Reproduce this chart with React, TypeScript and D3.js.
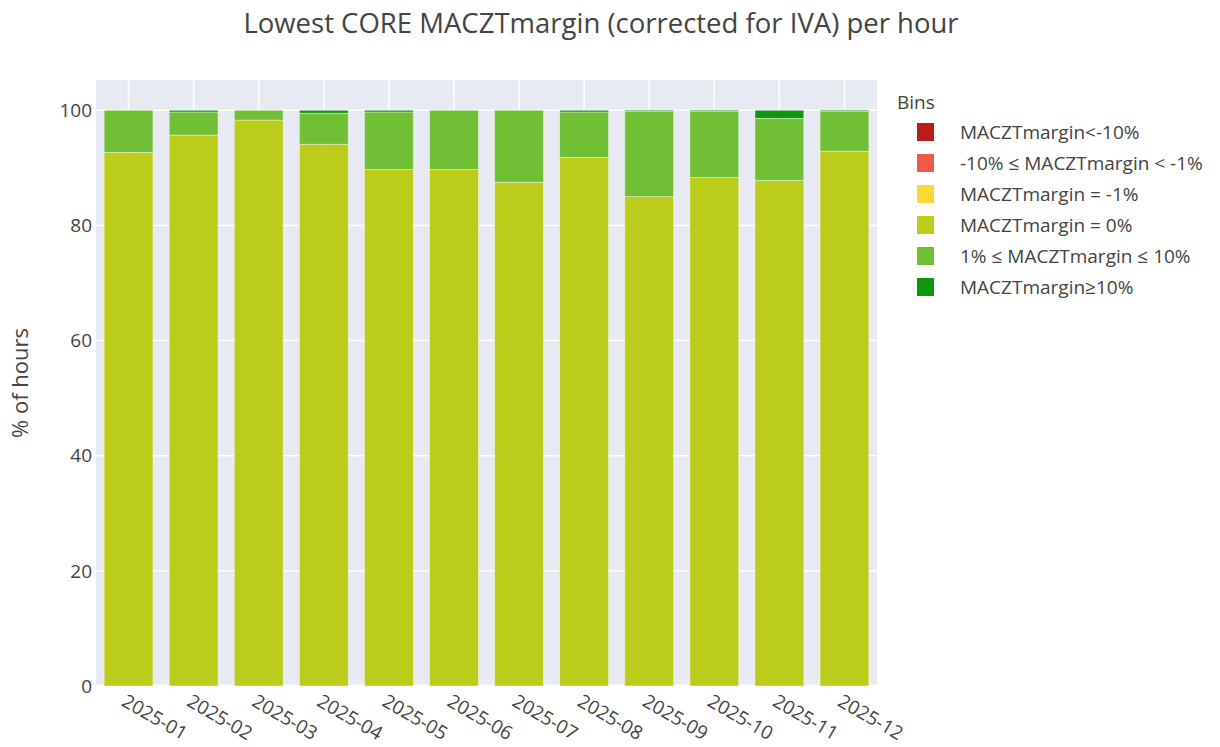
import { useEffect, useRef } from 'react';
import * as d3 from 'd3';

const months = ['2025-01', '2025-02', '2025-03', '2025-04', '2025-05', '2025-06',
  '2025-07', '2025-08', '2025-09', '2025-10', '2025-11', '2025-12'];

const binNames = ['MACZTmargin<-10%', '-10% \u2264 MACZTmargin < -1%', 'MACZTmargin = -1%',
  'MACZTmargin = 0%', '1% \u2264 MACZTmargin \u2264 10%', 'MACZTmargin\u226510%'];
const binColors = ['#b81c1c', '#f0584a', '#fdd835', '#bccc1a', '#70bf34', '#0b980b'];

const belowMinus10 = [0, 0, 0, 0, 0, 0, 0, 0, 0, 0, 0, 0];
const minus10toMinus1 = [0, 0, 0, 0, 0, 0, 0, 0, 0, 0, 0, 0];
const minus1 = [0, 0, 0, 0, 0, 0, 0, 0, 0, 0, 0, 0];
const zero = [92.7, 95.7, 98.3, 94.1, 89.7, 89.7, 87.5, 91.8, 85.0, 88.3, 87.8, 92.9];
const oneTo10 = [7.3, 4.0, 1.7, 5.4, 10.0, 10.3, 12.5, 7.9, 14.8, 11.5, 10.8, 6.9];
const above10 = [0, 0.3, 0, 0.5, 0.3, 0, 0, 0.3, 0.2, 0.2, 1.4, 0.2];

const yTicks = [0, 20, 40, 60, 80, 100];

const App = () => {
  const svgRef = useRef<SVGSVGElement>(null);

  useEffect(() => {
    const width = 1220;
    const height = 747;
    const margin = { top: 80, right: 343, bottom: 61, left: 96 };
    const font = '"Open Sans", sans-serif';
    const series = [belowMinus10, minus10toMinus1, minus1, zero, oneTo10, above10];

    const svg = d3.select(svgRef.current)
      .attr('width', width)
      .attr('height', height)
      .style('font-family', font);
    svg.selectAll('*').remove();

    const x = d3.scaleBand()
      .domain(months)
      .range([margin.left, width - margin.right])
      .paddingInner(0.25)
      .paddingOuter(0.125);

    const y = d3.scaleLinear()
      .domain([0, 105.26])
      .range([height - margin.bottom, margin.top]);

    svg.append('rect')
      .attr('x', margin.left)
      .attr('y', margin.top)
      .attr('width', width - margin.left - margin.right)
      .attr('height', height - margin.top - margin.bottom)
      .attr('fill', '#e7e9f3');

    // grid
    svg.append('g').selectAll('line')
      .data(months)
      .join('line')
      .attr('x1', d => x(d)! + x.bandwidth() / 2)
      .attr('x2', d => x(d)! + x.bandwidth() / 2)
      .attr('y1', margin.top)
      .attr('y2', height - margin.bottom)
      .attr('stroke', '#fff')
      .attr('stroke-width', 1.5);

    svg.append('g').selectAll('line')
      .data(yTicks)
      .join('line')
      .attr('x1', margin.left)
      .attr('x2', width - margin.right)
      .attr('y1', d => y(d))
      .attr('y2', d => y(d))
      .attr('stroke', '#fff')
      .attr('stroke-width', d => (d === 0 ? 3 : 1.5));

    // stacked bars
    const rows = months.map((m, i) => {
      const row: Record<string, number | string> = { month: m };
      series.forEach((s, k) => { row['s' + k] = s[i]; });
      return row;
    });
    const stack = d3.stack<Record<string, number | string>>()
      .keys(series.map((_, k) => 's' + k))
      .value((d, key) => d[key] as number);
    const stacked = stack(rows);

    stacked.forEach((layer, k) => {
      svg.append('g')
        .selectAll('rect')
        .data(layer.filter(d => d[1] - d[0] > 0))
        .join('rect')
        .attr('x', d => x(d.data.month as string)!)
        .attr('width', x.bandwidth())
        .attr('y', d => y(d[1]))
        .attr('height', d => y(d[0]) - y(d[1]))
        .attr('fill', binColors[k])
        .attr('stroke', 'rgba(255,255,255,0.5)')
        .attr('stroke-width', 0.8);
    });

    // y axis labels
    svg.append('g').selectAll('text')
      .data(yTicks)
      .join('text')
      .attr('x', margin.left - 4)
      .attr('y', d => y(d))
      .attr('dy', '0.35em')
      .attr('text-anchor', 'end')
      .attr('font-size', 19)
      .attr('fill', '#444')
      .text(d => d);

    svg.append('text')
      .attr('transform', `translate(28,${(margin.top + height - margin.bottom) / 2}) rotate(-90)`)
      .attr('text-anchor', 'middle')
      .attr('font-size', 22)
      .attr('fill', '#444')
      .text('% of hours');

    // x axis labels
    svg.append('g').selectAll('text')
      .data(months)
      .join('text')
      .attr('transform', d => `translate(${x(d)! + x.bandwidth() / 2 - 8},${height - margin.bottom + 19}) rotate(30)`)
      .attr('text-anchor', 'start')
      .attr('font-size', 19)
      .attr('fill', '#444')
      .text(d => d);

    // title
    svg.append('text')
      .attr('x', 601)
      .attr('y', 33)
      .attr('text-anchor', 'middle')
      .attr('font-size', 27.5)
      .attr('fill', '#444')
      .text('Lowest CORE MACZTmargin (corrected for IVA) per hour');

    // legend
    const legend = svg.append('g').attr('transform', 'translate(897,0)');
    legend.append('text')
      .attr('x', 0)
      .attr('y', 109)
      .attr('font-size', 19)
      .attr('fill', '#444')
      .text('Bins');
    const items = legend.selectAll('g.item')
      .data(binNames)
      .join('g')
      .attr('class', 'item')
      .attr('transform', (_, i) => `translate(0,${132 + i * 31})`);
    items.append('rect')
      .attr('x', 20)
      .attr('y', -9)
      .attr('width', 17)
      .attr('height', 18)
      .attr('fill', (_, i) => binColors[i]);
    items.append('text')
      .attr('x', 63)
      .attr('dy', '0.35em')
      .attr('font-size', 19)
      .attr('fill', '#444')
      .text(d => d);
  }, []);

  return (
    <div>
      <svg ref={svgRef} style={{ position: 'absolute', left: 0, top: 0 }}></svg>
    </div>
  );
};

export default App;
